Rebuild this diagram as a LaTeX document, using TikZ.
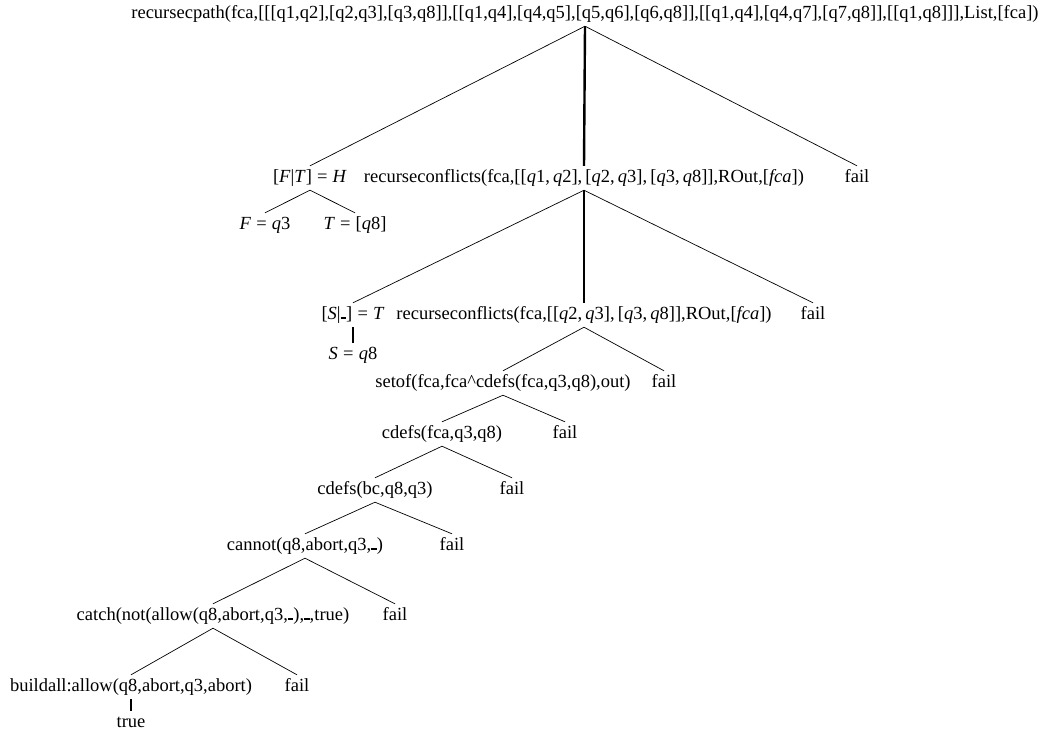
\documentclass[tikz,border=0pt]{standalone}
\usepackage{fontspec}
\setmainfont{Liberation Serif}
% math-like pieces set with the text font
\newcommand\mv[1]{\textit{#1}}
\newcommand\qq[1]{\textit{q}#1}
\newcommand\mc{,\hspace{0.17em}}
\newcommand\meq{\hspace{0.28em}=\hspace{0.28em}}
\newcommand\ubar{\rule{0.3em}{0.09em}}
\begin{document}
\begin{tikzpicture}[x=1pt,y=-1pt,
  lbl/.style={font=\fontsize{18.5}{20}\selectfont, inner xsep=0pt, inner ysep=4pt,
              text height=12pt, text depth=4pt, anchor=base},
  edge/.style={line width=0.7pt},
  main/.style={line width=2.4pt}]
\useasboundingbox (0,0) rectangle (1046,737);

% goal nodes
\node[lbl] (root) at (585,18) {recursecpath(fca,[[[q1,q2],[q2,q3],[q3,q8]],[[q1,q4],[q4,q5],[q5,q6],[q6,q8]],[[q1,q4],[q4,q7],[q7,q8]],[[q1,q8]]],List,[fca])};

\node[lbl] (ft)  at (310,182) {[\mv{F}|\mv{T}]\meq\mv{H}};
\node[lbl] (rc1) at (584,182) {recurseconflicts(fca,[[\qq1\mc\qq2]\mc[\qq2\mc\qq3]\mc[\qq3\mc\qq8]],ROut,[\mv{fca}])};
\node[lbl] (f1)  at (857,182) {fail};

\node[lbl] (fq3) at (265,229) {\mv{F}\meq\qq3};
\node[lbl] (tq8) at (355,229) {\mv{T}\meq[\qq8]};

\node[lbl] (su)  at (353,319) {[\mv{S}|\ubar]\meq\mv{T}};
\node[lbl] (rc2) at (584,319) {recurseconflicts(fca,[[\qq2\mc\qq3]\mc[\qq3\mc\qq8]],ROut,[\mv{fca}])};
\node[lbl] (f2)  at (813,319) {fail};

\node[lbl] (sq8) at (353,359) {\mv{S}\meq\qq8};

\node[lbl] (so)  at (503,387) {setof(fca,fca\^{}cdefs(fca,q3,q8),out)};
\node[lbl] (f3)  at (664,387) {fail};

\node[lbl] (cd1) at (442,438) {cdefs(fca,q3,q8)};
\node[lbl] (f4)  at (565,438) {fail};

\node[lbl] (cd2) at (375,494) {cdefs(bc,q8,q3)};
\node[lbl] (f5)  at (512,494) {fail};

\node[lbl] (cn)  at (305,550) {cannot(q8,abort,q3,\ubar)};
\node[lbl] (f6)  at (452,550) {fail};

\node[lbl] (ct)  at (213,620) {catch(not(allow(q8,abort,q3,\ubar),\ubar,true)};
\node[lbl] (f7)  at (395,620) {fail};

\node[lbl] (ba)  at (131,691) {buildall:allow(q8,abort,q3,abort)};
\node[lbl] (f8)  at (297,691) {fail};

\node[lbl] (tr)  at (131,727) {true};

% branches
\draw[edge] (root.south) -- (ft.north);
\draw[main] (root.south) -- (rc1.north);
\draw[edge] (root.south) -- (f1.north);

\draw[edge] (ft.south) -- (fq3.north);
\draw[edge] (ft.south) -- (tq8.north);

\draw[edge] (rc1.south) -- (su.north);
\draw[main] (rc1.south) -- (rc2.north);
\draw[edge] (rc1.south) -- (f2.north);

\draw[main] (su.south) -- (sq8.north);

\draw[edge] (rc2.south) -- (so.north);
\draw[edge] (rc2.south) -- (f3.north);

\draw[edge] (so.south) -- (cd1.north);
\draw[edge] (so.south) -- (f4.north);

\draw[edge] (cd1.south) -- (cd2.north);
\draw[edge] (cd1.south) -- (f5.north);

\draw[edge] (cd2.south) -- (cn.north);
\draw[edge] (cd2.south) -- (f6.north);

\draw[edge] (cn.south) -- (ct.north);
\draw[edge] (cn.south) -- (f7.north);

\draw[edge] (ct.south) -- (ba.north);
\draw[edge] (ct.south) -- (f8.north);

\draw[main] (ba.south) -- (tr.north);
\end{tikzpicture}
\end{document}
